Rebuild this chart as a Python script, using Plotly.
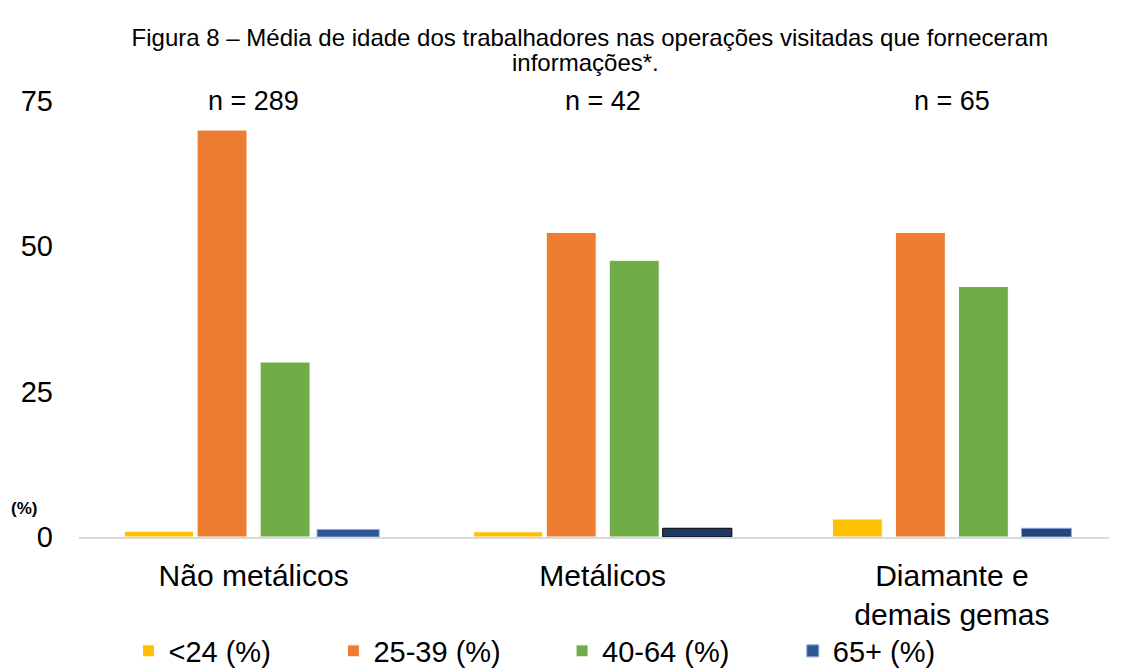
import plotly.graph_objects as go

# dados (%)
categorias = ['Não metálicos', 'Metálicos', 'Diamante e<br>demais gemas']
amostras = ['n = 289', 'n = 42', 'n = 65']
faixas = ['<24 (%)', '25-39 (%)', '40-64 (%)', '65+ (%)']
ate_24 = [1.0, 0.9, 3.1]
de_25_39 = [70.0, 52.4, 52.4]
de_40_64 = [30.1, 47.6, 43.1]
mais_65 = [1.3, 1.5, 1.5]

cores = ['#FFC000', '#ED7D31', '#70AD47', ['#2F5597', '#1F3864', '#264478']]
larguras = [[0.198, 0.198, 0.143], 0.143, 0.143, [0.178, 0.198, 0.143]]
linhas = ['white', 'white', 'white', ['#8FAADC', '#000000', '#8FAADC']]
legendas = ['legend', 'legend2', 'legend3', 'legend4']
pos_legenda = [0.048, 0.247, 0.469, 0.693]

fig = go.Figure()
for nome, vals, cor, w, lc, lg in zip(faixas, [ate_24, de_25_39, de_40_64, mais_65], cores, larguras, linhas, legendas):
    fig.add_trace(go.Bar(
        x=categorias, y=vals, name=nome, width=w, legend=lg,
        marker=dict(color=cor, line=dict(color=lc, width=1)),
    ))

for cat, n in zip(categorias, amostras):
    fig.add_annotation(x=cat, y=75, xref='x', yref='y', text=n, showarrow=False,
                       font=dict(size=27, color='#000000'))

# segunda linha do título (espaçamento mais apertado que o <br> do plotly)
fig.add_annotation(x=0.4913, y=1.0872, xref='paper', yref='paper',
                   xanchor='center', yanchor='middle', text='informações*.',
                   showarrow=False, font=dict(size=24, color='#000000'))

fig.add_annotation(x=-0.053, y=0.0665, xref='paper', yref='paper', text='<b>(%)</b>',
                   xanchor='center', yanchor='middle',
                   showarrow=False, font=dict(size=17, color='#000000'))

leg = dict(orientation='h', y=-0.2615, yanchor='middle', font=dict(size=29),
           bgcolor='rgba(0,0,0,0)', itemwidth=30)
fig.update_layout(
    width=1119, height=663,
    paper_bgcolor='white', plot_bgcolor='white',
    font=dict(family='Liberation Sans, Arial, sans-serif', color='#000000'),
    title=dict(text='Figura 8 – Média de idade dos trabalhadores nas operações visitadas que forneceram',
               x=0.520, xanchor='center', y=1 - 30 / 663, yanchor='middle', font=dict(size=24)),
    margin=dict(l=71, r=18, t=93, b=134, autoexpand=False),
    barmode='group', bargap=0.278, bargroupgap=0.2,
    showlegend=True,
    legend=dict(leg, x=pos_legenda[0], xanchor='left'),
    legend2=dict(leg, x=pos_legenda[1], xanchor='left'),
    legend3=dict(leg, x=pos_legenda[2], xanchor='left'),
    legend4=dict(leg, x=pos_legenda[3], xanchor='left'),
)
fig.update_xaxes(range=[-0.5, 2.45], showline=True, linecolor='#D9D9D9', linewidth=2,
                 showgrid=False, tickfont=dict(size=30), ticklabelstandoff=11)
fig.update_yaxes(range=[0, 75], tickvals=[0, 25, 50, 75], showgrid=False, zeroline=False,
                 showline=False, tickfont=dict(size=29), ticklabelstandoff=25)

fig.write_html('out.html')
